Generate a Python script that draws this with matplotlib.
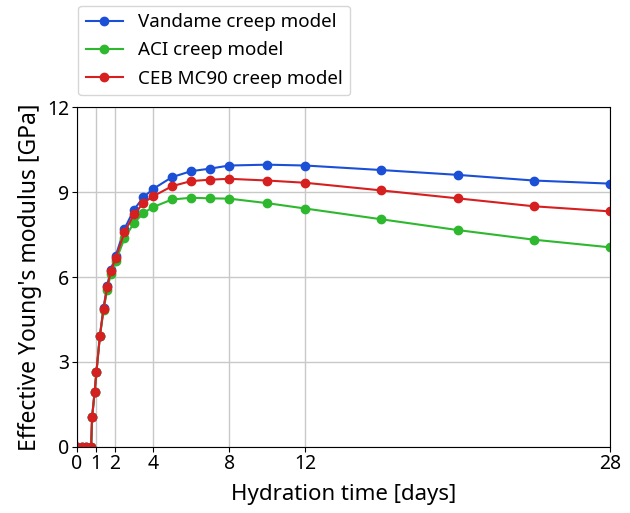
import matplotlib

matplotlib.use("Agg")
import matplotlib.pyplot as plt

plt.rcParams["font.family"] = ["Noto Sans", "DejaVu Sans"]

# hydration time [days]
time_days = [0, 0.25, 0.5, 0.75, 0.8, 0.93, 1.03, 1.21, 1.4, 1.59, 1.78, 2.04,
             2.5, 3, 3.5, 4, 5, 6, 7, 8, 10, 12, 16, 20, 24, 28]

# effective Young's modulus [GPa]
vandame = [0, 0, 0, 0, 1.04, 1.92, 2.66, 3.92, 4.9, 5.68, 6.25, 6.75,
           7.7, 8.38, 8.82, 9.11, 9.53, 9.74, 9.83, 9.94, 9.97, 9.94, 9.78, 9.61, 9.41, 9.30]
aci = [0, 0, 0, 0, 1.04, 1.92, 2.66, 3.9, 4.82, 5.55, 6.1, 6.55,
       7.37, 7.91, 8.26, 8.47, 8.74, 8.80, 8.78, 8.77, 8.61, 8.42, 8.04, 7.66, 7.32, 7.05]
ceb = [0, 0, 0, 0, 1.04, 1.92, 2.66, 3.92, 4.88, 5.63, 6.2, 6.67,
       7.58, 8.21, 8.62, 8.85, 9.21, 9.39, 9.44, 9.47, 9.41, 9.33, 9.06, 8.78, 8.50, 8.32]

x_ticks = [0, 1, 2, 4, 8, 12, 28]
y_ticks = [0, 3, 6, 9, 12]

SERIES = [
    ("Vandame creep model", vandame, "#1a4fd6"),
    ("ACI creep model", aci, "#2db82d"),
    ("CEB MC90 creep model", ceb, "#d61f1f"),
]

fig = plt.figure(figsize=(6.3, 5.13), dpi=100)
ax = fig.add_axes([0.122, 0.129, 0.846, 0.662])

for label, values, color in SERIES:
    ax.plot(time_days, values, marker="o", markersize=6, linewidth=1.5,
            color=color, label=label)

ax.set_xlim(0, 28)
ax.set_ylim(0, 12)
ax.set_xticks(x_ticks)
ax.set_yticks(y_ticks)
ax.tick_params(labelsize=14, pad=2)
ax.grid(color="#c8c8c8", linewidth=1.0)
ax.set_axisbelow(True)
ax.set_xlabel("Hydration time [days]", fontsize=16, labelpad=7)
ax.set_ylabel("Effective Young's modulus [GPa]", fontsize=16.5, labelpad=4)

fig.legend(loc="upper left", bbox_to_anchor=(0.115, 1.0), fontsize=13.5,
           handlelength=2.0, labelspacing=0.55, borderaxespad=0.3)

fig.savefig("out.png", dpi=100)
